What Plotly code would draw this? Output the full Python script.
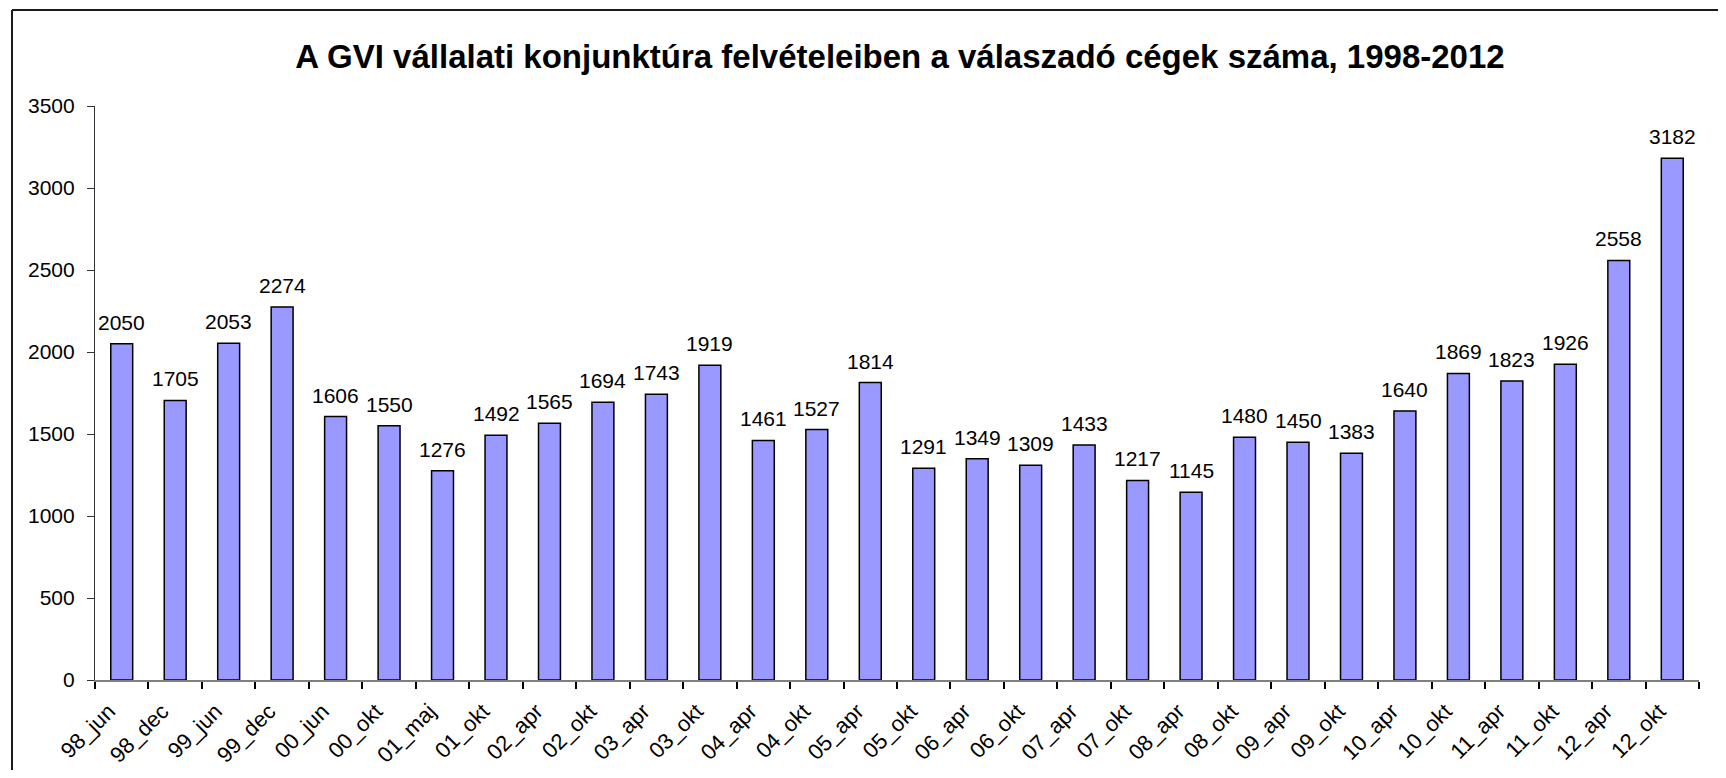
import plotly.graph_objects as go

categories = ["98_jun", "98_dec", "99_jun", "99_dec", "00_jun", "00_okt", "01_maj", "01_okt",
              "02_apr", "02_okt", "03_apr", "03_okt", "04_apr", "04_okt", "05_apr", "05_okt",
              "06_apr", "06_okt", "07_apr", "07_okt", "08_apr", "08_okt", "09_apr", "09_okt",
              "10_apr", "10_okt", "11_apr", "11_okt", "12_apr", "12_okt"]
values = [2050, 1705, 2053, 2274, 1606, 1550, 1276, 1492,
          1565, 1694, 1743, 1919, 1461, 1527, 1814, 1291,
          1349, 1309, 1433, 1217, 1145, 1480, 1450, 1383,
          1640, 1869, 1823, 1926, 2558, 3182]
y_ticks = [0, 500, 1000, 1500, 2000, 2500, 3000, 3500]

title = "A GVI vállalati konjunktúra felvételeiben a válaszadó cégek száma, 1998-2012"

# page body has an 8px margin; figure sized so it fits the window exactly
OFF = 8
W, H = 1726 - 2 * OFF, 778 - 2 * OFF
ml, mr, mt, mb = 87, 19, 98, 90
FONT = "Liberation Sans, Arial, sans-serif"

fig = go.Figure()
fig.add_trace(go.Bar(
    x=categories, y=values,
    marker=dict(color="#9999FF", line=dict(color="#000000", width=1.5)),
    hoverinfo="x+y",
))

for c, v in zip(categories, values):
    fig.add_annotation(x=c, y=v, text=str(v), showarrow=False, yanchor="bottom",
                       yshift=8, font=dict(family=FONT, size=21, color="#000"))

pw = W - ml - mr
ph = H - mt - mb
def px_to_paper_x(px):
    return (px - ml) / pw
def px_to_paper_y(py):
    return (H - mb - py) / ph

# outer frame: top and left edges visible
fig.add_shape(type="line", xref="paper", yref="paper",
              x0=px_to_paper_x(4), x1=px_to_paper_x(W + 5),
              y0=px_to_paper_y(2), y1=px_to_paper_y(2),
              line=dict(color="#1a1a1a", width=2), layer="below")
fig.add_shape(type="line", xref="paper", yref="paper",
              x0=px_to_paper_x(4), x1=px_to_paper_x(4),
              y0=px_to_paper_y(2), y1=px_to_paper_y(H + 5),
              line=dict(color="#1a1a1a", width=2), layer="below")

# trailing non-breaking spaces push rotated labels down-left, as in the original
tick_text = [c + "\u00a0\u00a0\u00a0" for c in categories]

fig.update_layout(
    width=W, height=H,
    margin=dict(l=ml, r=mr, t=mt, b=mb, autoexpand=False),
    paper_bgcolor="white", plot_bgcolor="white",
    bargap=0.59,
    showlegend=False,
    font=dict(family=FONT, size=21, color="#000"),
    title=dict(text="<b>" + title + "</b>", x=892 / W, xanchor="center",
               y=1 - 48 / H, yanchor="middle",
               font=dict(family=FONT, size=33, color="#000")),
    xaxis=dict(
        type="category", showline=True, linecolor="#808080", linewidth=1.5,
        ticks="outside", tickson="boundaries", ticklen=7, tickcolor="#000", tickwidth=1.5,
        tickangle=-45, tickfont=dict(size=22), showgrid=False, ticklabelstandoff=-5,
        tickmode="array", tickvals=categories, ticktext=tick_text, automargin=False,
    ),
    yaxis=dict(
        range=[0, 3500], tickvals=y_ticks, showline=True, linecolor="#333333", linewidth=1.2,
        ticks="outside", ticklen=7, tickcolor="#333", tickwidth=1.2,
        showgrid=False, zeroline=False, tickfont=dict(size=21), ticklabelstandoff=8,
        automargin=False,
    ),
)

fig.write_html("out.html")
